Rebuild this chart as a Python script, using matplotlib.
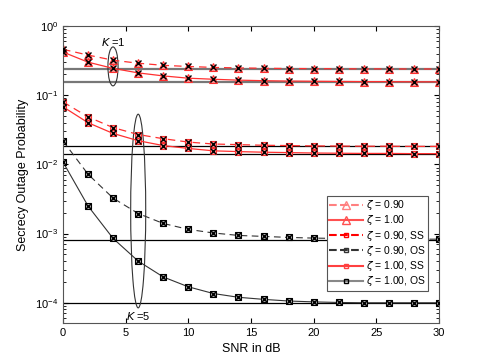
import numpy as np
import matplotlib.pyplot as plt
from matplotlib.patches import Ellipse
from matplotlib.lines import Line2D

plt.rcParams['font.family'] = ['Liberation Sans', 'DejaVu Sans']
plt.rcParams['font.size'] = 8

# SNR in dB
snr = np.arange(0, 31, 2)

# K = 1
k1_z090 = [0.46, 0.38, 0.32, 0.29, 0.27, 0.26, 0.252, 0.248, 0.245, 0.243, 0.242, 0.241, 0.240, 0.240, 0.239, 0.239]
k1_z100 = [0.42, 0.30, 0.244, 0.21, 0.19, 0.176, 0.17, 0.165, 0.162, 0.160, 0.159, 0.158, 0.157, 0.157, 0.156, 0.156]
k1_asym = [0.238, 0.156]

# K = 5, SS
ss_z090 = [0.080, 0.0485, 0.034, 0.027, 0.0235, 0.021, 0.0197, 0.0193, 0.0189, 0.0187, 0.0185, 0.0184, 0.0183, 0.0183, 0.0182, 0.0182]
ss_z100 = [0.068, 0.040, 0.028, 0.022, 0.0187, 0.017, 0.0157, 0.0153, 0.0150, 0.0148, 0.0146, 0.0145, 0.0144, 0.0144, 0.0143, 0.0143]
ss_asym = [0.0182, 0.0143]

# K = 5, OS
os_z090 = [0.0218, 0.0072, 0.00325, 0.00195, 0.0014, 0.00115, 0.00102, 0.00094, 0.00091, 0.00088, 0.00086, 0.00085, 0.00084, 0.00083, 0.00083, 0.00083]
os_z100 = [0.0108, 0.0025, 0.00085, 0.0004, 0.000236, 0.00017, 0.000136, 0.00012, 0.000112, 0.000106, 0.000103, 0.000101, 0.0001, 0.0001, 0.0001, 0.0001]
os_asym = [0.00082, 0.0001]

legend_labels = ['$\\zeta$ = 0.90', '$\\zeta$ = 1.00', '$\\zeta$ = 0.90, SS',
                 '$\\zeta$ = 0.90, OS', '$\\zeta$ = 1.00, SS', '$\\zeta$ = 1.00, OS']

fig = plt.figure(figsize=(4.85, 3.63), dpi=100)
ax = fig.add_axes([63/485, 40/363, 376/485, 297/363])

# asymptotes
for v in k1_asym:
    ax.axhline(v, color='#777777', lw=1.6, zorder=1)
for v in ss_asym + os_asym:
    ax.axhline(v, color='black', lw=0.9, zorder=1)

red = '#ff3030'
# K = 1 curves
ax.plot(snr, k1_z090, '--', color=red, lw=0.9, marker='^', ms=5.5, mfc='#ff9090', mec=red, mew=0.8, dashes=(6, 4))
ax.plot(snr, k1_z100, '-', color=red, lw=0.9, marker='^', ms=5.5, mfc='#ff9090', mec=red, mew=0.8)
# SS curves
ax.plot(snr, ss_z090, '--', color=red, lw=0.9, marker='s', ms=4.5, mfc='#ff9090', mec=red, mew=0.8, dashes=(6, 4))
ax.plot(snr, ss_z100, '-', color=red, lw=0.9, marker='s', ms=4.5, mfc='#ff9090', mec=red, mew=0.8)
# OS curves
ax.plot(snr, os_z090, '--', color='#333333', lw=0.8, marker='s', ms=4.2, mfc='#aaaaaa', mec='black', mew=0.8, dashes=(6, 4))
ax.plot(snr, os_z100, '-', color='#333333', lw=0.8, marker='s', ms=4.2, mfc='#aaaaaa', mec='black', mew=0.8)

# simulation points
for s in [k1_z090, k1_z100, ss_z090, ss_z100, os_z090, os_z100]:
    ax.plot(snr, s, 'x', color='black', ms=3.8, mew=1.0, zorder=5)

# ellipses
ax.add_patch(Ellipse((0.133, 0.864), 0.027, 0.131, transform=ax.transAxes,
                     fill=False, ec='#333333', lw=0.8))
ax.add_patch(Ellipse((0.2, 0.377), 0.04, 0.652, transform=ax.transAxes,
                     fill=False, ec='#333333', lw=0.8))
ax.text(4, 0.58, '$K$ =1', ha='center', va='center', fontsize=8)
ax.text(6, 6.4e-5, '$K$ =5', ha='center', va='center', fontsize=8)

ax.set_yscale('log')
ax.set_xlim(0, 30)
ax.set_ylim(5.1e-5, 1)
ax.set_xticks(np.arange(0, 31, 5))
ax.tick_params(which='both', direction='in', top=True, right=True, labelsize=8)
for sp in ax.spines.values():
    sp.set_color('#555555')

ax.set_xlabel('SNR in dB', fontsize=9)
ax.set_ylabel('Secrecy Outage Probability', fontsize=9)

handles = [
    Line2D([], [], color='#ff8080', ls='--', marker='^', mfc='none', ms=5.5),
    Line2D([], [], color='#ff5050', ls='-', marker='^', mfc='none', ms=5.5),
    Line2D([], [], color='red', ls='--', marker='s', mfc='none', ms=3.5),
    Line2D([], [], color='#333333', ls='--', marker='s', mfc='none', ms=3.5),
    Line2D([], [], color='#ff4040', ls='-', marker='s', mfc='none', ms=3.5),
    Line2D([], [], color='#888888', ls='-', marker='s', mfc='none', mec='black', ms=3.5),
]
leg = ax.legend(handles, legend_labels, loc='lower right', bbox_to_anchor=(0.985, 0.09),
                fontsize=7.5, fancybox=False, edgecolor='#555555', framealpha=1,
                handlelength=3.2, labelspacing=0.12, borderpad=0.25, handletextpad=0.3)
leg.get_frame().set_linewidth(0.8)

plt.savefig('out.png', dpi=100)
